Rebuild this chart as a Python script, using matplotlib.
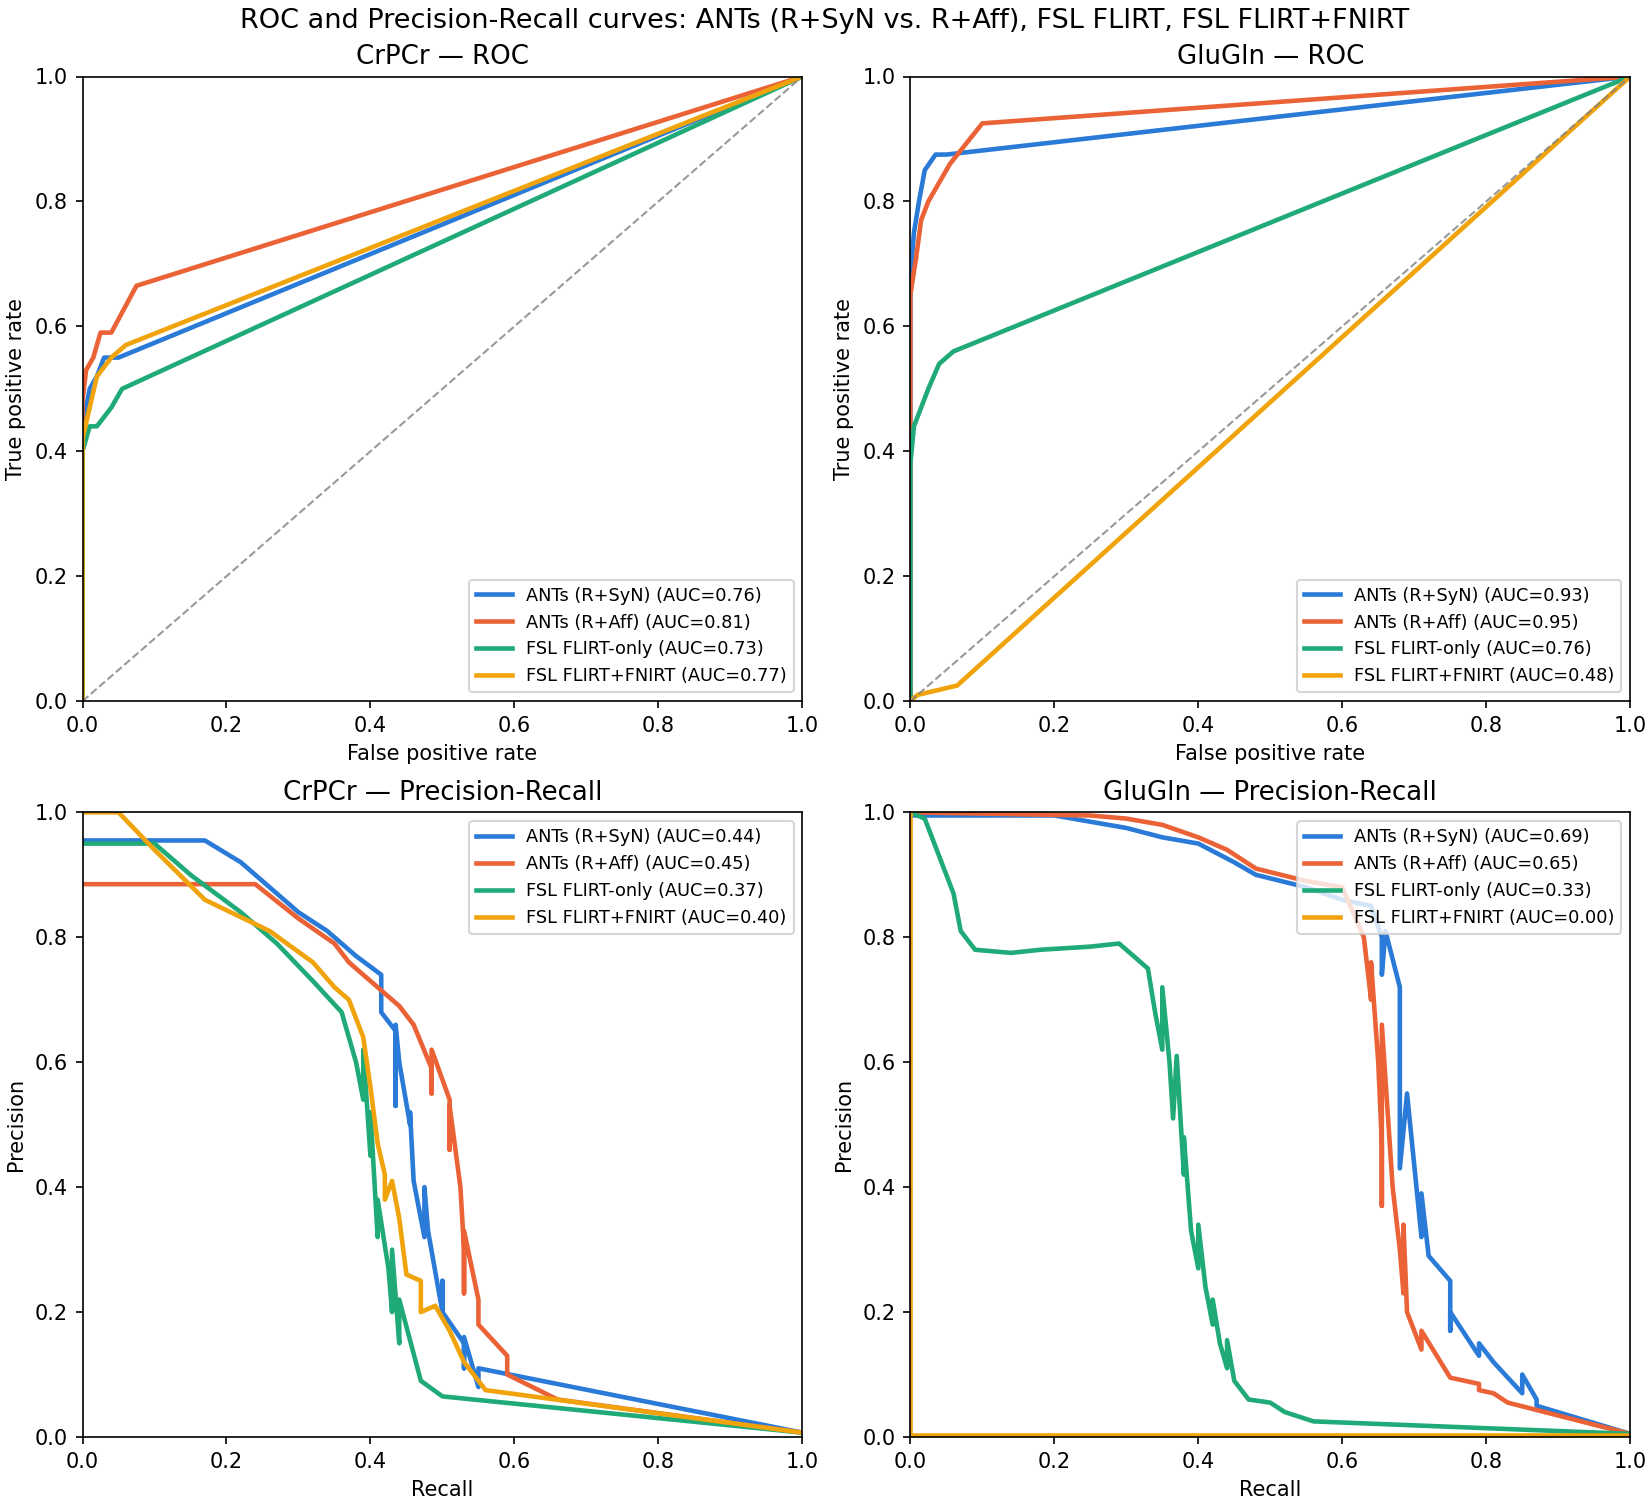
import matplotlib
matplotlib.use("Agg")
import matplotlib.pyplot as plt

methods = ["ANTs (R+SyN)", "ANTs (R+Aff)", "FSL FLIRT-only", "FSL FLIRT+FNIRT"]
colors = ["#2a7ad8", "#ea6235", "#1faa78", "#f0a30a"]

# ROC curves (fpr, tpr)
crpcr_roc = [
    [(0,0),(0,0.45),(0.005,0.47),(0.01,0.5),(0.02,0.52),(0.03,0.55),(0.05,0.55),(1,1)],
    [(0,0),(0,0.48),(0.005,0.53),(0.015,0.55),(0.025,0.59),(0.04,0.59),(0.075,0.665),(1,1)],
    [(0,0),(0,0.4),(0.01,0.44),(0.02,0.44),(0.04,0.47),(0.055,0.5),(1,1)],
    [(0,0),(0,0.42),(0.01,0.47),(0.02,0.52),(0.04,0.55),(0.06,0.57),(1,1)],
]
crpcr_roc_auc = [0.76, 0.81, 0.73, 0.77]
glu_roc = [
    [(0,0),(0,0.68),(0.005,0.75),(0.012,0.8),(0.02,0.85),(0.035,0.875),(0.05,0.875),(1,1)],
    [(0,0),(0,0.65),(0.008,0.71),(0.015,0.77),(0.025,0.8),(0.04,0.83),(0.055,0.86),(0.1,0.925),(1,1)],
    [(0,0),(0,0.38),(0.005,0.44),(0.015,0.47),(0.025,0.5),(0.04,0.54),(0.06,0.56),(1,1)],
    [(0,0),(0.01,0.01),(0.065,0.025),(1,1)],
]
glu_roc_auc = [0.93, 0.95, 0.76, 0.48]

# Precision-recall curves (recall, precision)
crpcr_pr = [
    [(0,0.955),(0.17,0.955),(0.22,0.92),(0.26,0.88),(0.3,0.84),(0.34,0.81),(0.38,0.77),(0.415,0.74),(0.415,0.68),
     (0.435,0.65),(0.435,0.53),(0.435,0.66),(0.44,0.6),(0.455,0.5),(0.455,0.52),(0.46,0.41),(0.475,0.32),(0.475,0.4),
     (0.48,0.33),(0.5,0.2),(0.5,0.25),(0.5,0.2),(0.53,0.15),(0.53,0.11),(0.53,0.16),(0.55,0.08),(0.55,0.11),(1,0.007)],
    [(0,0.885),(0.24,0.885),(0.3,0.83),(0.35,0.79),(0.37,0.76),(0.41,0.72),(0.44,0.69),(0.46,0.66),(0.485,0.59),
     (0.485,0.55),(0.485,0.62),(0.51,0.54),(0.51,0.46),(0.51,0.53),(0.525,0.4),(0.53,0.3),(0.53,0.23),(0.53,0.33),
     (0.55,0.22),(0.55,0.18),(0.59,0.13),(0.59,0.1),(0.66,0.06),(1,0.007)],
    [(0,0.95),(0.1,0.95),(0.15,0.9),(0.22,0.84),(0.27,0.79),(0.32,0.73),(0.36,0.68),(0.38,0.6),(0.39,0.54),
     (0.39,0.62),(0.4,0.45),(0.4,0.52),(0.41,0.32),(0.41,0.38),(0.425,0.27),(0.43,0.2),(0.43,0.3),(0.44,0.15),
     (0.44,0.22),(0.47,0.09),(0.5,0.065),(1,0.007)],
    [(0,1.0),(0.05,1.0),(0.1,0.94),(0.17,0.86),(0.26,0.81),(0.32,0.76),(0.35,0.72),(0.37,0.7),(0.39,0.64),
     (0.4,0.56),(0.41,0.47),(0.42,0.42),(0.42,0.38),(0.43,0.41),(0.44,0.35),(0.45,0.26),(0.47,0.25),(0.47,0.2),
     (0.49,0.21),(0.51,0.17),(0.53,0.12),(0.56,0.075),(1,0.007)],
]
crpcr_pr_auc = [0.44, 0.45, 0.37, 0.40]
glu_pr = [
    [(0,0.995),(0.2,0.995),(0.3,0.975),(0.35,0.96),(0.4,0.95),(0.45,0.92),(0.48,0.9),(0.55,0.88),(0.6,0.86),
     (0.64,0.85),(0.655,0.8),(0.655,0.74),(0.66,0.81),(0.68,0.72),(0.68,0.43),(0.69,0.55),(0.71,0.32),(0.71,0.39),
     (0.72,0.29),(0.75,0.25),(0.75,0.17),(0.75,0.2),(0.79,0.13),(0.79,0.15),(0.81,0.12),(0.85,0.07),(0.85,0.1),
     (0.87,0.06),(0.87,0.05),(1,0.005)],
    [(0,1.0),(0.25,0.995),(0.3,0.99),(0.35,0.98),(0.4,0.96),(0.44,0.94),(0.48,0.91),(0.55,0.89),(0.6,0.88),
     (0.63,0.8),(0.64,0.7),(0.64,0.76),(0.65,0.6),(0.655,0.47),(0.655,0.37),(0.655,0.66),(0.67,0.4),(0.68,0.3),
     (0.685,0.23),(0.685,0.34),(0.69,0.2),(0.71,0.14),(0.71,0.17),(0.75,0.095),(0.79,0.085),(0.79,0.075),
     (0.81,0.07),(0.83,0.055),(1,0.005)],
    [(0,1.0),(0.02,0.99),(0.06,0.87),(0.07,0.81),(0.09,0.78),(0.14,0.775),(0.18,0.78),(0.25,0.785),(0.29,0.79),
     (0.31,0.77),(0.33,0.75),(0.34,0.68),(0.35,0.62),(0.35,0.72),(0.36,0.6),(0.365,0.51),(0.37,0.61),(0.38,0.42),
     (0.38,0.48),(0.39,0.33),(0.4,0.27),(0.4,0.34),(0.41,0.24),(0.42,0.18),(0.42,0.22),(0.43,0.15),(0.44,0.11),
     (0.44,0.155),(0.45,0.09),(0.47,0.06),(0.5,0.055),(0.52,0.04),(0.56,0.025),(1,0.005)],
    [(0,1.0),(0,0.003),(1,0.003)],
]
glu_pr_auc = [0.69, 0.65, 0.33, 0.00]

fig, axes = plt.subplots(2, 2, figsize=(11, 10), dpi=150)

panels = [
    (axes[0, 0], "CrPCr — ROC", crpcr_roc, crpcr_roc_auc, True),
    (axes[0, 1], "GluGln — ROC", glu_roc, glu_roc_auc, True),
    (axes[1, 0], "CrPCr — Precision-Recall", crpcr_pr, crpcr_pr_auc, False),
    (axes[1, 1], "GluGln — Precision-Recall", glu_pr, glu_pr_auc, False),
]

for ax, title, curves, aucs, is_roc in panels:
    for name, col, pts, auc in zip(methods, colors, curves, aucs):
        xs = [p[0] for p in pts]
        ys = [p[1] for p in pts]
        ax.plot(xs, ys, color=col, lw=2.2, label=f"{name} (AUC={auc:.2f})")
    if is_roc:
        ax.plot([0, 1], [0, 1], "--", color="gray", lw=1, alpha=0.8)
        ax.set_xlabel("False positive rate")
        ax.set_ylabel("True positive rate")
        ax.legend(loc="lower right", fontsize=8.5)
    else:
        ax.set_xlabel("Recall")
        ax.set_ylabel("Precision")
        ax.legend(loc="upper right", fontsize=8.5)
    ax.set_xlim(0, 1)
    ax.set_ylim(0, 1)
    ax.set_title(title, fontsize=12.5)

fig.suptitle("ROC and Precision-Recall curves: ANTs (R+SyN vs. R+Aff), FSL FLIRT, FSL FLIRT+FNIRT",
             fontsize=13, y=0.995)
fig.subplots_adjust(left=0.05, right=0.988, top=0.949, bottom=0.042, wspace=0.15, hspace=0.178)
fig.savefig("out.png")
